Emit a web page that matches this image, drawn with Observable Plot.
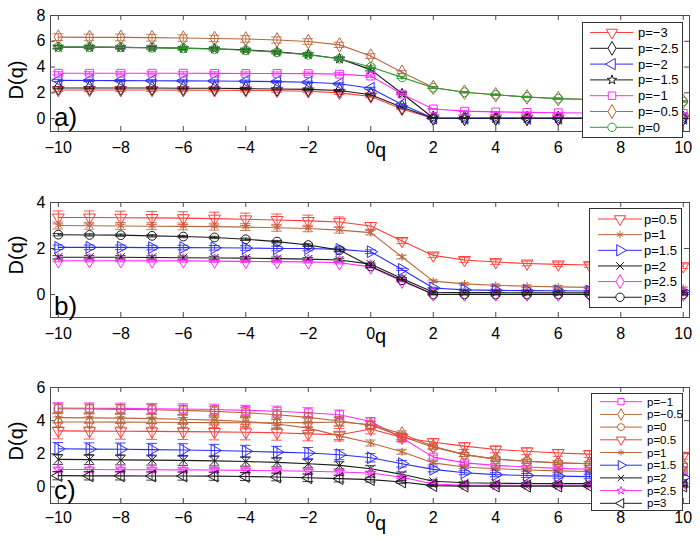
<!DOCTYPE html>
<html><head><meta charset="utf-8">
<script src="https://cdn.jsdelivr.net/npm/d3@7"></script>
<script src="https://cdn.jsdelivr.net/npm/@observablehq/plot@0.6"></script>
<style>
body{margin:0;background:#fff;}
#wrap{position:relative;width:700px;height:541px;overflow:hidden;background:#fff;font-family:"Liberation Sans",Arial,sans-serif;}
.panel{position:absolute;left:0;}
#overlay{position:absolute;left:0;top:0;pointer-events:none;}
</style></head><body><div id="wrap"></div><script>
// ---------- data ----------
const Q = [-10,-9,-8,-7,-6,-5,-4,-3,-2,-1,0,1,2,3,4,5,6,7,8,9,10];
const xTicks = [-10,-8,-6,-4,-2,0,2,4,6,8,10];
const aYTicks = [0,2,4,6,8];
const bYTicks = [0,2,4];
const cYTicks = [0,2,4,6];

// panel a)
const aLabels = ["p=−3","p=−2.5","p=−2","p=−1.5","p=−1","p=−0.5","p=0"];
const aPm3  = [2.22,2.22,2.22,2.22,2.21,2.2,2.19,2.16,2.12,2.0,1.72,0.75,0.02,0.02,0.02,0.02,0.02,0.02,0.02,0.02,0.02];
const aPm25 = [2.38,2.38,2.37,2.37,2.36,2.35,2.33,2.3,2.27,2.18,1.85,0.88,0.03,0.02,0.02,0.02,0.02,0.02,0.02,0.02,0.02];
const aPm2  = [2.97,2.96,2.95,2.94,2.93,2.92,2.9,2.87,2.82,2.7,2.35,1.1,0.03,0.02,0.02,0.02,0.02,0.02,0.02,0.02,0.02];
const aPm15 = [5.55,5.55,5.53,5.5,5.47,5.42,5.33,5.18,4.98,4.65,3.8,1.95,0.05,0.03,0.03,0.03,0.03,0.03,0.03,0.03,0.03];
const aPm1  = [3.52,3.52,3.52,3.52,3.52,3.51,3.5,3.5,3.49,3.45,3.3,1.9,0.75,0.58,0.52,0.48,0.45,0.43,0.42,0.41,0.4];
const aPm05 = [6.32,6.3,6.3,6.28,6.25,6.22,6.18,6.1,5.98,5.72,4.85,3.6,2.42,2.05,1.85,1.68,1.55,1.48,1.42,1.38,1.33];
const aP0   = [5.55,5.55,5.53,5.5,5.45,5.4,5.3,5.15,4.95,4.65,4.0,3.2,2.4,2.05,1.85,1.68,1.55,1.48,1.42,1.38,1.33];
const aPm3Err  = [0.12,0.12,0.12,0.12,0.12,0.12,0.12,0.12,0.12,0.12,0.1,0.06,0.02,0.02,0.02,0.02,0.02,0.02,0.02,0.02,0.02];
const aPm25Err = [0.08,0.08,0.08,0.08,0.08,0.08,0.08,0.08,0.08,0.08,0.08,0.05,0.02,0.02,0.02,0.02,0.02,0.02,0.02,0.02,0.02];
const aPm2Err  = [0.08,0.08,0.08,0.08,0.08,0.08,0.08,0.08,0.08,0.08,0.08,0.05,0.02,0.02,0.02,0.02,0.02,0.02,0.02,0.02,0.02];
const aPm15Err = [0.1,0.1,0.1,0.1,0.1,0.1,0.1,0.1,0.1,0.1,0.1,0.06,0.02,0.02,0.02,0.02,0.02,0.02,0.02,0.02,0.02];
const aPm1Err  = [0.12,0.12,0.12,0.12,0.12,0.12,0.12,0.12,0.12,0.12,0.1,0.06,0.04,0.03,0.03,0.03,0.03,0.03,0.03,0.03,0.03];
const aPm05Err = [0.26,0.26,0.26,0.26,0.25,0.25,0.25,0.24,0.22,0.2,0.18,0.12,0.08,0.06,0.05,0.05,0.05,0.05,0.05,0.05,0.05];
const aP0Err   = [0.15,0.15,0.15,0.15,0.15,0.15,0.15,0.14,0.13,0.12,0.1,0.08,0.06,0.05,0.05,0.05,0.05,0.05,0.05,0.05,0.05];

// panel b)
const bLabels = ["p=0.5","p=1","p=1.5","p=2","p=2.5","p=3"];
const bP05 = [3.35,3.35,3.34,3.33,3.32,3.3,3.27,3.24,3.2,3.15,2.98,2.33,1.7,1.5,1.41,1.35,1.31,1.28,1.26,1.24,1.23];
const bP1  = [3.0,2.99,2.98,2.97,2.96,2.95,2.93,2.9,2.87,2.8,2.69,1.63,0.58,0.46,0.4,0.36,0.33,0.31,0.3,0.28,0.27];
const bP15 = [2.05,2.05,2.05,2.04,2.04,2.03,2.02,2.0,2.0,1.96,1.86,1.09,0.28,0.2,0.18,0.17,0.16,0.15,0.15,0.14,0.13];
const bP2  = [1.62,1.62,1.62,1.61,1.6,1.59,1.58,1.56,1.54,1.5,1.32,0.7,0.1,0.08,0.08,0.07,0.07,0.07,0.07,0.07,0.07];
const bP25 = [1.47,1.47,1.47,1.46,1.46,1.45,1.44,1.43,1.42,1.38,1.2,0.58,0.02,0.02,0.02,0.02,0.02,0.02,0.02,0.02,0.02];
const bP3  = [2.6,2.59,2.58,2.55,2.52,2.48,2.4,2.3,2.15,1.93,1.22,0.62,0.0,0.0,0.0,0.0,0.0,0.0,0.0,0.0,0.0];
const bP05Err = [0.28,0.28,0.28,0.28,0.28,0.28,0.27,0.26,0.25,0.22,0.15,0.12,0.1,0.1,0.1,0.1,0.1,0.1,0.1,0.1,0.1];
const bP1Err  = [0.15,0.15,0.15,0.15,0.15,0.15,0.15,0.15,0.14,0.13,0.1,0.08,0.05,0.05,0.05,0.05,0.05,0.05,0.05,0.05,0.05];
const bP15Err = [0.1,0.1,0.1,0.1,0.1,0.1,0.1,0.1,0.1,0.1,0.08,0.05,0.03,0.03,0.03,0.03,0.03,0.03,0.03,0.03,0.03];
const bP2Err  = [0.07,0.07,0.07,0.07,0.07,0.07,0.07,0.07,0.07,0.07,0.05,0.04,0.02,0.02,0.02,0.02,0.02,0.02,0.02,0.02,0.02];
const bP25Err = [0.05,0.05,0.05,0.05,0.05,0.05,0.05,0.05,0.05,0.05,0.05,0.03,0.02,0.02,0.02,0.02,0.02,0.02,0.02,0.02,0.02];
const bP3Err  = [0.05,0.05,0.05,0.05,0.05,0.05,0.05,0.05,0.05,0.05,0.05,0.03,0.02,0.02,0.02,0.02,0.02,0.02,0.02,0.02,0.02];

// panel c)
const cLabels = ["p=−1","p=−0.5","p=0","p=0.5","p=1","p=1.5","p=2","p=2.5","p=3"];
const cPm1  = [4.76,4.75,4.74,4.72,4.7,4.67,4.62,4.57,4.48,4.36,3.95,2.95,1.8,1.45,1.3,1.2,1.12,1.07,1.03,1.0,0.98];
const cPm05 = [3.92,3.92,3.91,3.9,3.89,3.88,3.87,3.87,3.88,3.92,3.75,3.2,2.45,1.95,1.68,1.55,1.45,1.4,1.35,1.32,1.3];
const cP0   = [4.72,4.7,4.68,4.66,4.62,4.56,4.48,4.36,4.2,3.98,3.72,3.05,2.4,1.95,1.68,1.55,1.45,1.4,1.35,1.32,1.3];
const cP05  = [3.38,3.37,3.36,3.35,3.34,3.32,3.3,3.27,3.2,3.15,3.5,2.98,2.7,2.46,2.26,2.15,2.05,1.98,1.94,1.9,1.88];
const cP1   = [4.18,4.17,4.15,4.12,4.08,4.03,3.95,3.8,3.55,3.08,2.65,2.12,1.45,1.2,1.1,1.02,0.97,0.93,0.9,0.88,0.87];
const cP15  = [2.3,2.28,2.27,2.25,2.23,2.2,2.15,2.1,2.05,1.94,1.76,1.4,1.06,0.86,0.74,0.69,0.65,0.62,0.6,0.58,0.57];
const cP2   = [1.66,1.65,1.63,1.62,1.6,1.57,1.53,1.48,1.4,1.3,1.1,0.76,0.34,0.25,0.22,0.21,0.2,0.2,0.2,0.2,0.2];
const cP25  = [1.05,1.05,1.04,1.04,1.03,1.02,1.0,0.98,0.95,0.9,0.84,0.58,0.18,0.1,0.1,0.1,0.1,0.1,0.1,0.1,0.1];
const cP3   = [0.68,0.67,0.67,0.66,0.66,0.65,0.63,0.6,0.55,0.5,0.44,0.3,0.08,0.05,0.05,0.05,0.05,0.05,0.05,0.05,0.05];
const cPm1Err  = [0.32,0.32,0.32,0.32,0.32,0.32,0.3,0.3,0.3,0.28,0.22,0.18,0.12,0.1,0.1,0.1,0.1,0.1,0.1,0.1,0.1];
const cPm05Err = [0.3,0.3,0.3,0.3,0.3,0.3,0.3,0.3,0.28,0.26,0.22,0.18,0.15,0.12,0.12,0.12,0.12,0.12,0.12,0.12,0.12];
const cP0Err   = [0.3,0.3,0.3,0.3,0.3,0.3,0.3,0.3,0.28,0.26,0.22,0.18,0.15,0.12,0.12,0.12,0.12,0.12,0.12,0.12,0.12];
const cP05Err  = [0.48,0.48,0.48,0.48,0.48,0.48,0.46,0.45,0.42,0.38,0.3,0.25,0.22,0.2,0.2,0.2,0.2,0.2,0.2,0.2,0.2];
const cP1Err   = [0.3,0.3,0.3,0.3,0.3,0.3,0.3,0.28,0.26,0.22,0.18,0.15,0.12,0.1,0.1,0.1,0.1,0.1,0.1,0.1,0.1];
const cP15Err  = [0.38,0.38,0.38,0.38,0.38,0.37,0.36,0.35,0.33,0.3,0.25,0.2,0.15,0.12,0.12,0.12,0.12,0.12,0.12,0.12,0.12];
const cP2Err   = [0.3,0.3,0.3,0.3,0.3,0.3,0.28,0.27,0.25,0.22,0.18,0.14,0.08,0.06,0.06,0.06,0.06,0.06,0.06,0.06,0.06];
const cP25Err  = [0.15,0.15,0.15,0.15,0.15,0.15,0.15,0.14,0.13,0.12,0.1,0.08,0.05,0.04,0.04,0.04,0.04,0.04,0.04,0.04,0.04];
const cP3Err   = [0.25,0.25,0.25,0.25,0.25,0.25,0.24,0.23,0.22,0.2,0.15,0.1,0.05,0.04,0.04,0.04,0.04,0.04,0.04,0.04,0.04];

// ---------- styles ----------
const RED = "#ff3b3b", BLK = "#1a1a1a", BLUE = "#2b2bff", MAG = "#ff2bff", BRN = "#b8673d", GRN = "#339933";
function makeTri(theta){
  return {draw(ctx, size){
    const y = -Math.sqrt(size/(Math.sqrt(3)*3));
    const pts = [[0,2*y],[-Math.sqrt(3)*y,-y],[Math.sqrt(3)*y,-y]];
    const c = Math.cos(theta), s = Math.sin(theta);
    pts.forEach(([x,yy],i)=>{const X=x*c-yy*s, Y=x*s+yy*c; if(i) ctx.lineTo(X,Y); else ctx.moveTo(X,Y);});
    ctx.closePath();
  }};
}
const triDown = makeTri(Math.PI), triLeft = makeTri(-Math.PI/2), triRight = makeTri(Math.PI/2);
// relative marker scale per symbol (MATLAB pentagram / asterisk / x look smaller)
const symScale = new Map([[d3.symbolStar, 0.72], [d3.symbolAsterisk, 0.85], [d3.symbolTimes, 0.85]]);
const sc = s => symScale.get(s) || 1;

const panels = [
  { top:0, height:170, mt:15, mb:39, yDomain:[-1,8], yTicks:aYTicks, pad:10, letter:"a)", letterBase:126, qBase:157, dqY:80,
    legend:{x:582,y:22,w:101,h:116,row0:10.5,step:15.8,lx1:8,lx2:51,mx:30,tx:56,fs:13,r:4.2},
    series:[
      {label:aLabels[0], v:aPm3, e:aPm3Err, color:RED, sym:triDown},
      {label:aLabels[1], v:aPm25, e:aPm25Err, color:BLK, sym:d3.symbolDiamond},
      {label:aLabels[2], v:aPm2, e:aPm2Err, color:BLUE, sym:triLeft},
      {label:aLabels[3], v:aPm15, e:aPm15Err, color:BLK, sym:d3.symbolStar},
      {label:aLabels[4], v:aPm1, e:aPm1Err, color:MAG, sym:d3.symbolSquare},
      {label:aLabels[5], v:aPm05, e:aPm05Err, color:BRN, sym:d3.symbolDiamond},
      {label:aLabels[6], v:aP0, e:aP0Err, color:GRN, sym:d3.symbolCircle}
    ]},
  { top:170, height:180, mt:32, mb:33, yDomain:[-1,4], yTicks:bYTicks, pad:10, letter:"b)", letterBase:315, qBase:343, dqY:255,
    legend:{x:589,y:208,w:93,h:100,row0:11,step:15.65,lx1:9,lx2:53,mx:31,tx:55,fs:13,r:4.2},
    series:[
      {label:bLabels[0], v:bP05, e:bP05Err, color:RED, sym:triDown},
      {label:bLabels[1], v:bP1, e:bP1Err, color:BRN, sym:d3.symbolAsterisk},
      {label:bLabels[2], v:bP15, e:bP15Err, color:BLUE, sym:triRight},
      {label:bLabels[3], v:bP2, e:bP2Err, color:BLK, sym:d3.symbolTimes},
      {label:bLabels[4], v:bP25, e:bP25Err, color:MAG, sym:d3.symbolDiamond},
      {label:bLabels[5], v:bP3, e:bP3Err, color:BLK, sym:d3.symbolCircle}
    ]},
  { top:350, height:191, mt:37, mb:38, yDomain:[-1,6], yTicks:cYTicks, pad:8, letter:"c)", letterBase:499, qBase:530, dqY:441,
    legend:{x:591,y:393,w:92,h:118,row0:8.7,step:12.7,lx1:9,lx2:51,mx:30,tx:56,fs:11.5,r:3.5},
    series:[
      {label:cLabels[0], v:cPm1, e:cPm1Err, color:MAG, sym:d3.symbolSquare},
      {label:cLabels[1], v:cPm05, e:cPm05Err, color:BRN, sym:d3.symbolDiamond},
      {label:cLabels[2], v:cP0, e:cP0Err, color:BRN, sym:d3.symbolCircle},
      {label:cLabels[3], v:cP05, e:cP05Err, color:RED, sym:triDown},
      {label:cLabels[4], v:cP1, e:cP1Err, color:BRN, sym:d3.symbolAsterisk},
      {label:cLabels[5], v:cP15, e:cP15Err, color:BLUE, sym:triRight},
      {label:cLabels[6], v:cP2, e:cP2Err, color:BLK, sym:d3.symbolTimes},
      {label:cLabels[7], v:cP25, e:cP25Err, color:MAG, sym:d3.symbolStar},
      {label:cLabels[8], v:cP3, e:cP3Err, color:BLK, sym:triLeft}
    ]}
];

const fmt = d => d < 0 ? "\u2212" + (-d) : String(d);
const FRAME = "#4a4a4a";
const ML = 50, MR = 11, W = 700, CAP = 0.17, R = 4.4;
const wrap = document.getElementById("wrap");

panels.forEach(P => {
  const ph = P.height - P.mt - P.mb, pw = W - ML - MR;
  const marks = [
    Plot.frame({stroke: FRAME}),
    Plot.tickX(xTicks, {x: d => d, insetTop: ph - 5, stroke: FRAME}),
    Plot.tickX(xTicks, {x: d => d, insetBottom: ph - 5, stroke: FRAME}),
    Plot.tickY(P.yTicks, {y: d => d, insetRight: pw - 5, stroke: FRAME}),
    Plot.tickY(P.yTicks, {y: d => d, insetLeft: pw - 5, stroke: FRAME}),
    Plot.axisX(xTicks, {tickSize: 0, tickPadding: P.pad, tickFormat: fmt, label: null, fontSize: 16}),
    Plot.axisY(P.yTicks, {tickSize: 0, tickPadding: 5, tickFormat: fmt, label: null, fontSize: 16})
  ];
  P.series.forEach(s => {
    const rows = Q.map((q, i) => ({q, v: s.v[i], e: s.e[i]}));
    marks.push(
      Plot.ruleX(rows, {x: "q", y1: d => d.v - d.e, y2: d => d.v + d.e, stroke: s.color, strokeWidth: 1, strokeOpacity: 0.85}),
      Plot.ruleY(rows, {y: d => d.v + d.e, x1: d => d.q - CAP, x2: d => d.q + CAP, stroke: s.color, strokeWidth: 1, strokeOpacity: 0.85}),
      Plot.ruleY(rows, {y: d => d.v - d.e, x1: d => d.q - CAP, x2: d => d.q + CAP, stroke: s.color, strokeWidth: 1, strokeOpacity: 0.85}),
      Plot.line(rows, {x: "q", y: "v", stroke: s.color, strokeWidth: 1.1}),
      Plot.dot(rows, {x: "q", y: "v", symbol: s.sym, r: R * sc(s.sym), stroke: s.color, fill: "none", strokeWidth: 1})
    );
  });
  const svg = Plot.plot({
    width: W, height: P.height, marginLeft: ML, marginRight: MR, marginTop: P.mt, marginBottom: P.mb,
    x: {domain: [-10.25, 10.2]}, y: {domain: P.yDomain},
    style: {fontFamily: "'Liberation Sans', Arial, sans-serif", fontSize: "16px", color: "#000", background: "transparent"},
    marks
  });
  const div = document.createElement("div");
  div.className = "panel";
  div.style.top = P.top + "px";
  div.appendChild(svg);
  wrap.appendChild(div);
});

// overlay: axis labels, panel letters, legends
const ov = d3.select(wrap).append("svg").attr("id", "overlay").attr("width", W).attr("height", 541)
  .style("font-family", "'Liberation Sans', Arial, sans-serif");
panels.forEach(P => {
  ov.append("text").attr("transform", `translate(23,${P.dqY}) rotate(-90)`).attr("text-anchor", "middle")
    .attr("font-size", 20).text("D(q)");
  ov.append("text").attr("x", 375).attr("y", P.qBase).attr("font-size", 20).text("q");
  ov.append("text").attr("x", 54).attr("y", P.letterBase).attr("font-size", 26).text(P.letter);
  const L = P.legend;
  const g = ov.append("g").attr("transform", `translate(${L.x},${L.y})`);
  g.append("rect").attr("x", 0.5).attr("y", 0.5).attr("width", L.w - 1).attr("height", L.h - 1)
    .attr("fill", "#fff").attr("stroke", "#333");
  P.series.forEach((s, i) => {
    const y = L.row0 + i * L.step;
    const rr = L.r * sc(s.sym);
    g.append("line").attr("x1", L.lx1).attr("x2", L.lx2).attr("y1", y).attr("y2", y).attr("stroke", s.color);
    g.append("path").attr("d", d3.symbol().type(s.sym).size(Math.PI * rr * rr)())
      .attr("transform", `translate(${L.mx},${y})`).attr("fill", "#fff").attr("stroke", s.color);
    g.append("text").attr("x", L.tx).attr("y", y).attr("dy", "0.35em").attr("font-size", L.fs).text(s.label);
  });
});
</script></body></html>
